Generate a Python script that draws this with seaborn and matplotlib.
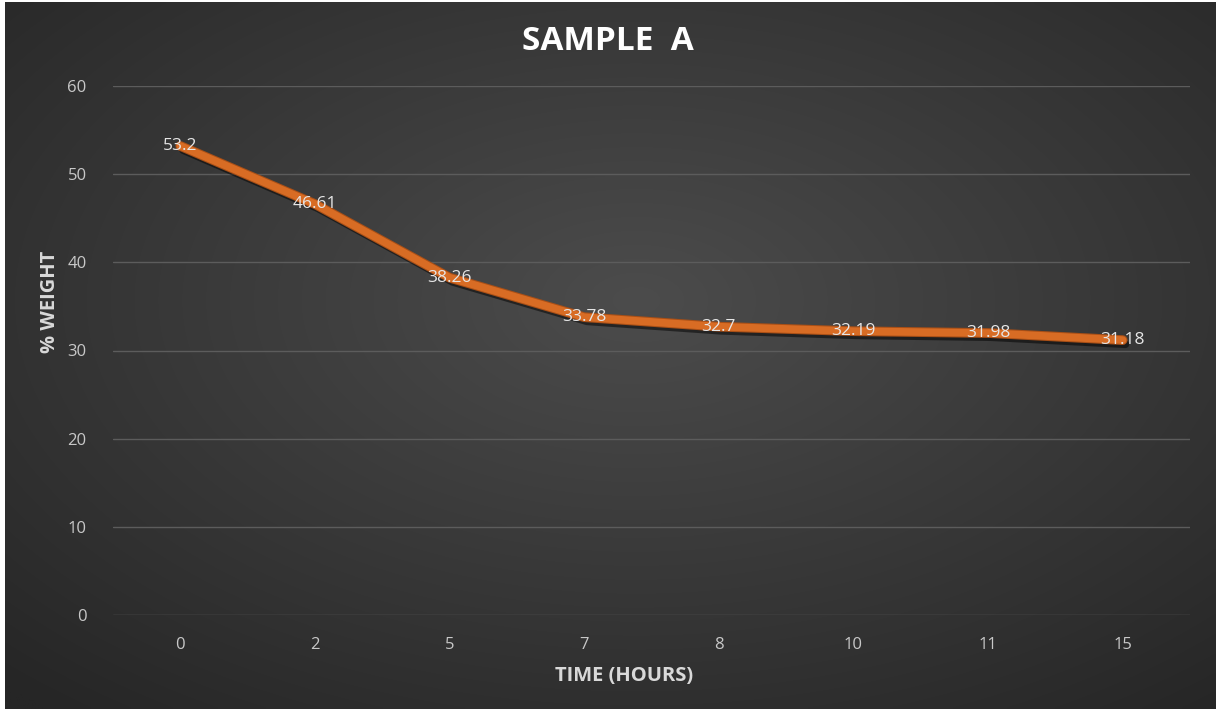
import numpy as np
import matplotlib
matplotlib.use("Agg")
import matplotlib.pyplot as plt
import matplotlib.patheffects as pe
import seaborn as sns
import pandas as pd

# Data
hours = ["0", "2", "5", "7", "8", "10", "11", "15"]
weight = [53.2, 46.61, 38.26, 33.78, 32.7, 32.19, 31.98, 31.18]
y_ticks = [0, 10, 20, 30, 40, 50, 60]

sns.set_theme(style="dark")
plt.rcParams["font.family"] = ["Open Sans", "DejaVu Sans"]

W, H = 1219, 711
fig = plt.figure(figsize=(W / 100, H / 100), dpi=100, facecolor="white")

# Radial dark backdrop
bg = fig.add_axes([5 / W, 2 / H, (W - 8) / W, (H - 4) / H])
yy, xx = np.mgrid[0:200, 0:340]
cx, cy = 340 * 0.52, 200 * 0.42
r = np.sqrt(((xx - cx) / 340) ** 2 + ((yy - cy) / 200) ** 2)
r = np.clip(r / 0.75, 0, 1)
inner = np.array([0x4c, 0x4c, 0x4c]) / 255
outer = np.array([0x26, 0x26, 0x26]) / 255
img = inner[None, None, :] * (1 - r[..., None]) + outer[None, None, :] * r[..., None]
bg.imshow(img, aspect="auto", extent=[0, 1, 0, 1], interpolation="bilinear")
bg.set_axis_off()

ax = fig.add_axes([113 / W, 1 - 615 / H, (1190 - 113) / W, (615 - 86) / H])
ax.patch.set_alpha(0)

df = pd.DataFrame({"hours": hours, "weight": weight})
sns.lineplot(
    data=df, x="hours", y="weight", ax=ax, sort=False,
    color="#d86c24", linewidth=5.5, solid_capstyle="round",
    path_effects=[
        pe.SimpleLineShadow(offset=(2, -3), shadow_color="black", alpha=0.5, rho=1),
        pe.Stroke(linewidth=7, foreground="#a94f16"),
        pe.Normal(),
    ],
)

for i, v in enumerate(weight):
    ax.text(i, v, f"{v:g}", ha="center", va="center", color="#e6e6e6",
            fontsize=12.5)

ax.set_xlim(-0.5, len(hours) - 0.5)
ax.set_ylim(0, 60)
ax.set_yticks(y_ticks)
ax.grid(axis="y", color="#5c5c5c", linewidth=1)
ax.grid(axis="x", visible=False)
for s in ax.spines.values():
    s.set_visible(False)
ax.tick_params(axis="both", length=0, colors="#c8c8c8", labelsize=12)
ax.tick_params(axis="y", pad=19)
ax.tick_params(axis="x", pad=16)
ax.set_xlabel("")
ax.set_ylabel("")

fig.text(608 / W, 1 - 41 / H, "SAMPLE  A", ha="center", va="center",
         color="white", fontsize=24, fontweight="bold")
fig.text(624 / W, 1 - 676 / H, "TIME (HOURS)", ha="center", va="center",
         color="#d9d9d9", fontsize=14.5, fontweight="bold")
fig.text(50 / W, 1 - 302 / H, "% WEIGHT", ha="center", va="center",
         rotation=90, color="#d9d9d9", fontsize=14.5, fontweight="bold")

fig.savefig("out.png", dpi=100, facecolor="white")
